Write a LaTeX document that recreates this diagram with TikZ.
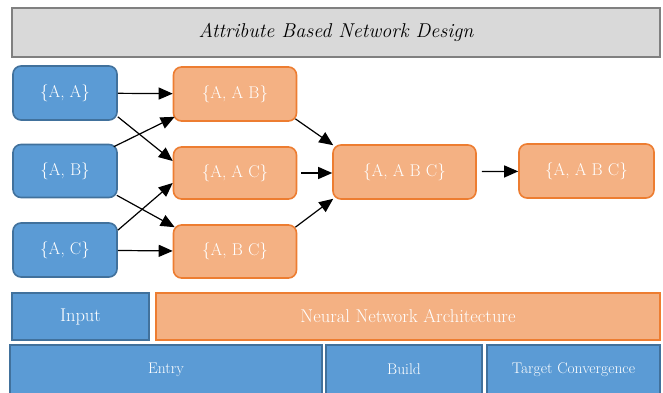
\documentclass[tikz,border=0pt]{standalone}
\usetikzlibrary{arrows.meta}
\definecolor{bfill}{HTML}{5B9BD5}
\definecolor{bdraw}{HTML}{41719C}
\definecolor{ofill}{HTML}{F4B183}
\definecolor{odraw}{HTML}{ED7D31}
\definecolor{tfill}{HTML}{D9D9D9}
\definecolor{tdraw}{HTML}{808080}
\tikzset{
  bluebox/.style={draw=bdraw, fill=bfill, line width=1.6pt, rounded corners=8pt, text=white, inner sep=0pt, font=\fontsize{17}{19}\selectfont},
  orangebox/.style={draw=odraw, fill=ofill, line width=1.6pt, rounded corners=8pt, text=white, inner sep=0pt, font=\fontsize{17}{19}\selectfont},
  bluebar/.style={draw=bdraw, fill=bfill, line width=1.8pt, text=white, inner sep=0pt},
  orangebar/.style={draw=odraw, fill=ofill, line width=1.8pt, text=white, inner sep=0pt},
  titlebox/.style={draw=tdraw, fill=tfill, line width=2pt, inner sep=0pt, font=\fontsize{20}{22}\selectfont\itshape},
  arr/.style={-{Triangle[length=14pt,width=12pt]}, line width=1.2pt, black},
}
\begin{document}
\begin{tikzpicture}[x=1pt,y=1pt]
\useasboundingbox (0,0) rectangle (663,-392);
% title
\node[titlebox, minimum width=648pt, minimum height=49pt] (title) at (336,-32.5) {Attribute Based Network Design};
% inputs
\node[bluebox, minimum width=104pt, minimum height=54pt] (aa) at (65,-93) {\{A, A\}};
\node[bluebox, minimum width=104pt, minimum height=53pt] (ab) at (65,-171) {\{A, B\}};
\node[bluebox, minimum width=104pt, minimum height=54pt] (ac) at (65,-250) {\{A, C\}};
% second column
\node[orangebox, minimum width=123pt, minimum height=54pt] (oab) at (235,-94) {\{A, A B\}};
\node[orangebox, minimum width=123pt, minimum height=52pt] (oac) at (235,-173) {\{A, A C\}};
\node[orangebox, minimum width=123pt, minimum height=53pt] (obc) at (235,-251.5) {\{A, B C\}};
% third and fourth
\node[orangebox, minimum width=143pt, minimum height=54pt] (abc) at (404.5,-172) {\{A, A B C\}};
\node[orangebox, minimum width=135pt, minimum height=54pt] (abcb) at (586.5,-171) {\{A, A B C\}};
% connectors
\draw[arr] (aa) -- (oab);
\draw[arr] ([yshift=4pt]aa.south east) -- ([yshift=12pt]oac.west);
\draw[arr] ([xshift=-4pt,yshift=-3pt]ab.north east) -- ([xshift=2pt,yshift=5pt]oab.south west);
\draw[arr] ([xshift=-1pt,yshift=3pt]ab.south east) -- ([xshift=2pt,yshift=-3pt]obc.north west);
\draw[arr] ([xshift=0pt,yshift=-8pt]ac.north east) -- ([yshift=-10pt]oac.west);
\draw[arr] (ac) -- (obc);
\draw[arr] ([xshift=-2pt,yshift=3pt]oab.south east) -- ([xshift=1pt,yshift=-1pt]abc.north west);
\draw[arr] ([xshift=4pt]oac.east) -- (abc.west |- oac.east);
\draw[arr] ([xshift=-2pt,yshift=-3pt]obc.north east) -- ([xshift=1pt,yshift=1pt]abc.south west);
\draw[arr, shorten <=5pt] (abc) -- (abcb);
% bottom bars
\node[bluebar, minimum width=137pt, minimum height=47pt, font=\fontsize{18.5}{20}\selectfont] (input) at (80.5,-316.5) {Input};
\node[orangebar, minimum width=504pt, minimum height=47pt, font=\fontsize{18.5}{20}\selectfont] (nna) at (408,-316.5) {Neural Network Architecture};
\node[bluebar, minimum width=312pt, minimum height=49pt, font=\fontsize{15.5}{17}\selectfont] (entry) at (166,-369.5) {Entry};
\node[bluebar, minimum width=156pt, minimum height=49pt, font=\fontsize{15.5}{17}\selectfont] (build) at (404,-369.5) {Build};
\node[bluebar, minimum width=173pt, minimum height=49pt, font=\fontsize{15.5}{17}\selectfont] (target) at (573.5,-369.5) {Target Convergence};
\end{tikzpicture}
\end{document}
